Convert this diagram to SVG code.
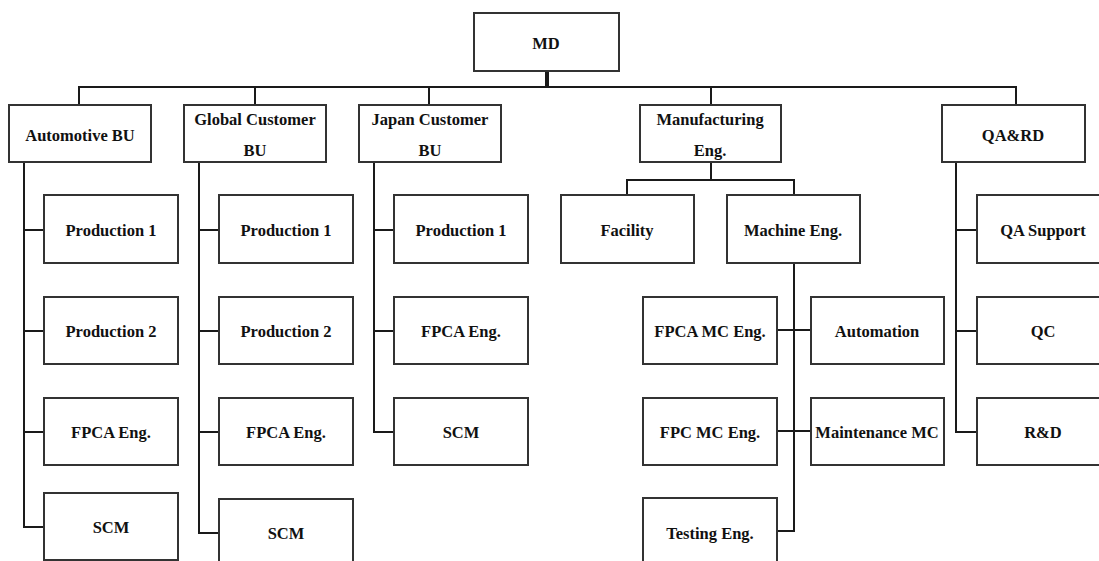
<svg xmlns="http://www.w3.org/2000/svg" width="1099" height="561" viewBox="0 0 1099 561">
<style>
.box{fill:#fff;stroke:#333;stroke-width:2}
.t{font-family:"Liberation Serif","Times New Roman",serif;font-weight:bold;font-size:16.5px;fill:#111;text-anchor:middle}
.c{fill:none;stroke:#1a1a1a;stroke-width:2}
</style>
<rect width="1099" height="561" fill="#fff"/>
<g id="connectors">
<line class="c" x1="547" y1="71" x2="547" y2="87" style="stroke-width:4"/>
<path class="c" d="M79,105 V87 H1016 V105 M255,87 V105 M429,87 V105 M711,87 V105"/>
<path class="c" d="M24,162 V527 H44 M24,230 H44 M24,331 H44 M24,432 H44"/>
<path class="c" d="M199,162 V533 H219 M199,230 H219 M199,331 H219 M199,432 H219"/>
<path class="c" d="M374,162 V432 H394 M374,230 H394 M374,331 H394"/>
<path class="c" d="M711,162 V180 M627,195 V180 H794 V195"/>
<path class="c" d="M794,263 V531 H777 M777,330 H811 M777,431 H811"/>
<path class="c" d="M956,162 V432 H977 M956,230 H977 M956,331 H977"/>
</g>
<g id="md"><rect class="box" x="474" y="13" width="145" height="58"/><text class="t" x="546" y="49">MD</text></g>
<g id="automotive-bu"><rect class="box" x="9" y="105" width="142" height="57"/><text class="t" x="80" y="141">Automotive BU</text></g>
<g id="global-customer-bu"><rect class="box" x="184" y="105" width="142" height="57"/><text class="t" x="255" y="125">Global Customer</text><text class="t" x="255" y="156">BU</text></g>
<g id="japan-customer-bu"><rect class="box" x="359" y="105" width="142" height="57"/><text class="t" x="430" y="125">Japan Customer</text><text class="t" x="430" y="156">BU</text></g>
<g id="manufacturing-eng"><rect class="box" x="640" y="105" width="141" height="57"/><text class="t" x="710" y="125">Manufacturing</text><text class="t" x="710" y="156">Eng.</text></g>
<g id="qa-rd"><rect class="box" x="942" y="105" width="143" height="57"/><text class="t" x="1013" y="141">QA&amp;RD</text></g>

<g id="auto-production-1"><rect class="box" x="44" y="195" width="134" height="68"/><text class="t" x="111" y="236">Production 1</text></g>
<g id="auto-production-2"><rect class="box" x="44" y="297" width="134" height="67"/><text class="t" x="111" y="337">Production 2</text></g>
<g id="auto-fpca-eng"><rect class="box" x="44" y="398" width="134" height="67"/><text class="t" x="111" y="438">FPCA Eng.</text></g>
<g id="auto-scm"><rect class="box" x="44" y="493" width="134" height="67"/><text class="t" x="111" y="533">SCM</text></g>

<g id="global-production-1"><rect class="box" x="219" y="195" width="134" height="68"/><text class="t" x="286" y="236">Production 1</text></g>
<g id="global-production-2"><rect class="box" x="219" y="297" width="134" height="67"/><text class="t" x="286" y="337">Production 2</text></g>
<g id="global-fpca-eng"><rect class="box" x="219" y="398" width="134" height="67"/><text class="t" x="286" y="438">FPCA Eng.</text></g>
<g id="global-scm"><rect class="box" x="219" y="499" width="134" height="67"/><text class="t" x="286" y="539">SCM</text></g>

<g id="japan-production-1"><rect class="box" x="394" y="195" width="134" height="68"/><text class="t" x="461" y="236">Production 1</text></g>
<g id="japan-fpca-eng"><rect class="box" x="394" y="297" width="134" height="67"/><text class="t" x="461" y="337">FPCA Eng.</text></g>
<g id="japan-scm"><rect class="box" x="394" y="398" width="134" height="67"/><text class="t" x="461" y="438">SCM</text></g>

<g id="facility"><rect class="box" x="561" y="195" width="133" height="68"/><text class="t" x="627" y="236">Facility</text></g>
<g id="machine-eng"><rect class="box" x="727" y="195" width="133" height="68"/><text class="t" x="793" y="236">Machine Eng.</text></g>
<g id="fpca-mc-eng"><rect class="box" x="643" y="297" width="134" height="67"/><text class="t" x="710" y="337">FPCA MC Eng.</text></g>
<g id="automation"><rect class="box" x="811" y="297" width="133" height="67"/><text class="t" x="877" y="337">Automation</text></g>
<g id="fpc-mc-eng"><rect class="box" x="643" y="398" width="134" height="67"/><text class="t" x="710" y="438">FPC MC Eng.</text></g>
<g id="maintenance-mc"><rect class="box" x="811" y="398" width="133" height="67"/><text class="t" x="877" y="438">Maintenance MC</text></g>
<g id="testing-eng"><rect class="box" x="643" y="498" width="134" height="67"/><text class="t" x="710" y="539">Testing Eng.</text></g>

<g id="qa-support"><rect class="box" x="977" y="195" width="134" height="68"/><text class="t" x="1043" y="236">QA Support</text></g>
<g id="qc"><rect class="box" x="977" y="297" width="134" height="67"/><text class="t" x="1043" y="337">QC</text></g>
<g id="r-and-d"><rect class="box" x="977" y="398" width="134" height="67"/><text class="t" x="1043" y="438">R&amp;D</text></g>
</svg>
